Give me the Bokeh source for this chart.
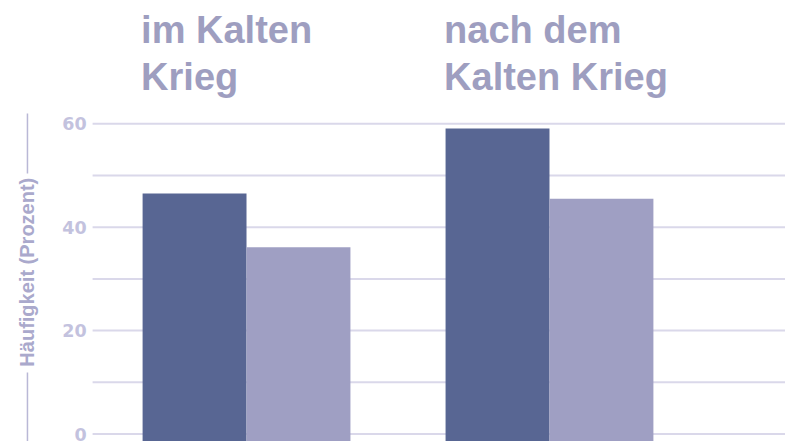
import numpy as np
from math import pi
from bokeh.plotting import figure
from bokeh.models import ColumnDataSource, Range1d, FixedTicker
from bokeh.core.properties import value
from bokeh.embed import file_html
from bokeh.resources import INLINE

# ---- data ----
groups = ["im Kalten Krieg", "nach dem Kalten Krieg"]
group_titles = ["im Kalten\nKrieg", "nach dem\nKalten Krieg"]
series_dark = [46.5, 59.1]
series_light = [36.1, 45.5]
y_tick_values = [0, 20, 40, 60]
grid_values = [0, 10, 20, 30, 40, 50, 60]
y_axis_title = "Häufigkeit (Prozent)"

# ---- styles ----
DARK = "#586693"
LIGHT = "#9f9fc3"
HEAD = "#9e9ec0"
TICK = "#c3c2de"
TITLE_C = "#aaa9cc"
GRID = "#dad8ea"
LINE_C = "#b9b8d6"
FONT = "Liberation Sans"
BAR_W = 0.343
GRID_X0 = -0.508      # left end of the grid lines / axis position
TITLE_X = -0.723      # x of the rotated axis title

xpos = np.arange(len(groups), dtype=float)
src = ColumnDataSource(dict(
    x_dark=xpos - BAR_W / 2,
    x_light=xpos + BAR_W / 2,
    x_head=xpos - BAR_W,
    dark=series_dark,
    light=series_light,
    head=group_titles,
))

p = figure(width=785, height=441, output_backend="svg", toolbar_location=None,
           x_range=Range1d(-0.812, 1.779), y_range=Range1d(-1.45, 83.85),
           min_border=0, x_axis_location=None)
p.outline_line_color = None
p.background_fill_color = "white"
p.border_fill_color = "white"
p.xgrid.visible = False
p.ygrid.visible = False

# grid lines starting at the axis
p.ray(x=GRID_X0, y=grid_values, length=0, angle=0,
      line_color=GRID, line_width=2)

# y axis drawn inside the canvas
ax = p.yaxis[0]
ax.fixed_location = GRID_X0
ax.ticker = FixedTicker(ticks=y_tick_values)
ax.axis_line_color = None
ax.major_tick_line_color = None
ax.minor_tick_line_color = None
ax.major_label_standoff = 0
ax.major_label_text_font = "DejaVu Sans"
ax.major_label_text_font_style = "bold"
ax.major_label_text_font_size = "17.5px"
ax.major_label_text_color = TICK

# bars
p.vbar(x="x_dark", top="dark", bottom=-5, width=BAR_W, source=src,
       fill_color=DARK, line_color=None)
p.vbar(x="x_light", top="light", bottom=-5, width=BAR_W, source=src,
       fill_color=LIGHT, line_color=None)

# group headers
p.text(x="x_head", y=82.3, text="head", source=src, x_offset=-1.5,
       text_align="left", text_baseline="top", text_font=value(FONT),
       text_font_style="bold", text_font_size="38px", text_color=HEAD,
       text_line_height=1.14)

# y axis title with an interrupted line
p.text(x=TITLE_X, y=31.3, text=[y_axis_title], angle=pi / 2,
       text_align="center", text_baseline="middle", text_font=value(FONT),
       text_font_style="bold", text_font_size="20px", text_color=TITLE_C)
p.segment(x0=[TITLE_X, TITLE_X], x1=[TITLE_X, TITLE_X],
          y0=[62.0, 11.9], y1=[50.4, -5], line_color=LINE_C, line_width=1.5)

open("out.html", "w").write(file_html(p, INLINE))
